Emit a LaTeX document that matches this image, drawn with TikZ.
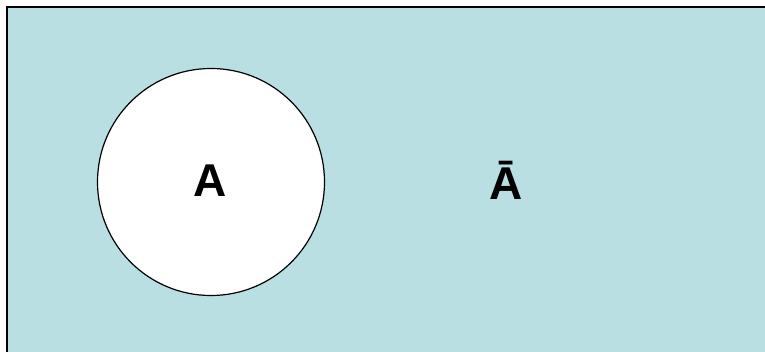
\documentclass[tikz,border=0pt]{standalone}
\usepackage{fontspec}
\setmainfont{Liberation Sans}
\definecolor{setbg}{RGB}{185,223,226}
\begin{document}
\begin{tikzpicture}[x=1pt,y=-1pt,
  lbl/.style={inner sep=0pt, anchor=base, font=\bfseries\fontsize{46}{46}\selectfont}]
\useasboundingbox (0,0) rectangle (765,351);
\draw[line width=2pt, fill=setbg] (7,7) rectangle (780,370);
\node[circle, draw=black, line width=1.2pt, fill=white, minimum size=227pt, inner sep=0pt] (a) at (211,182) {};
\node[lbl] (la) at (210.5,196) {A};
\node[lbl] (lnot) at (506,199) {Ā};
\end{tikzpicture}
\end{document}
